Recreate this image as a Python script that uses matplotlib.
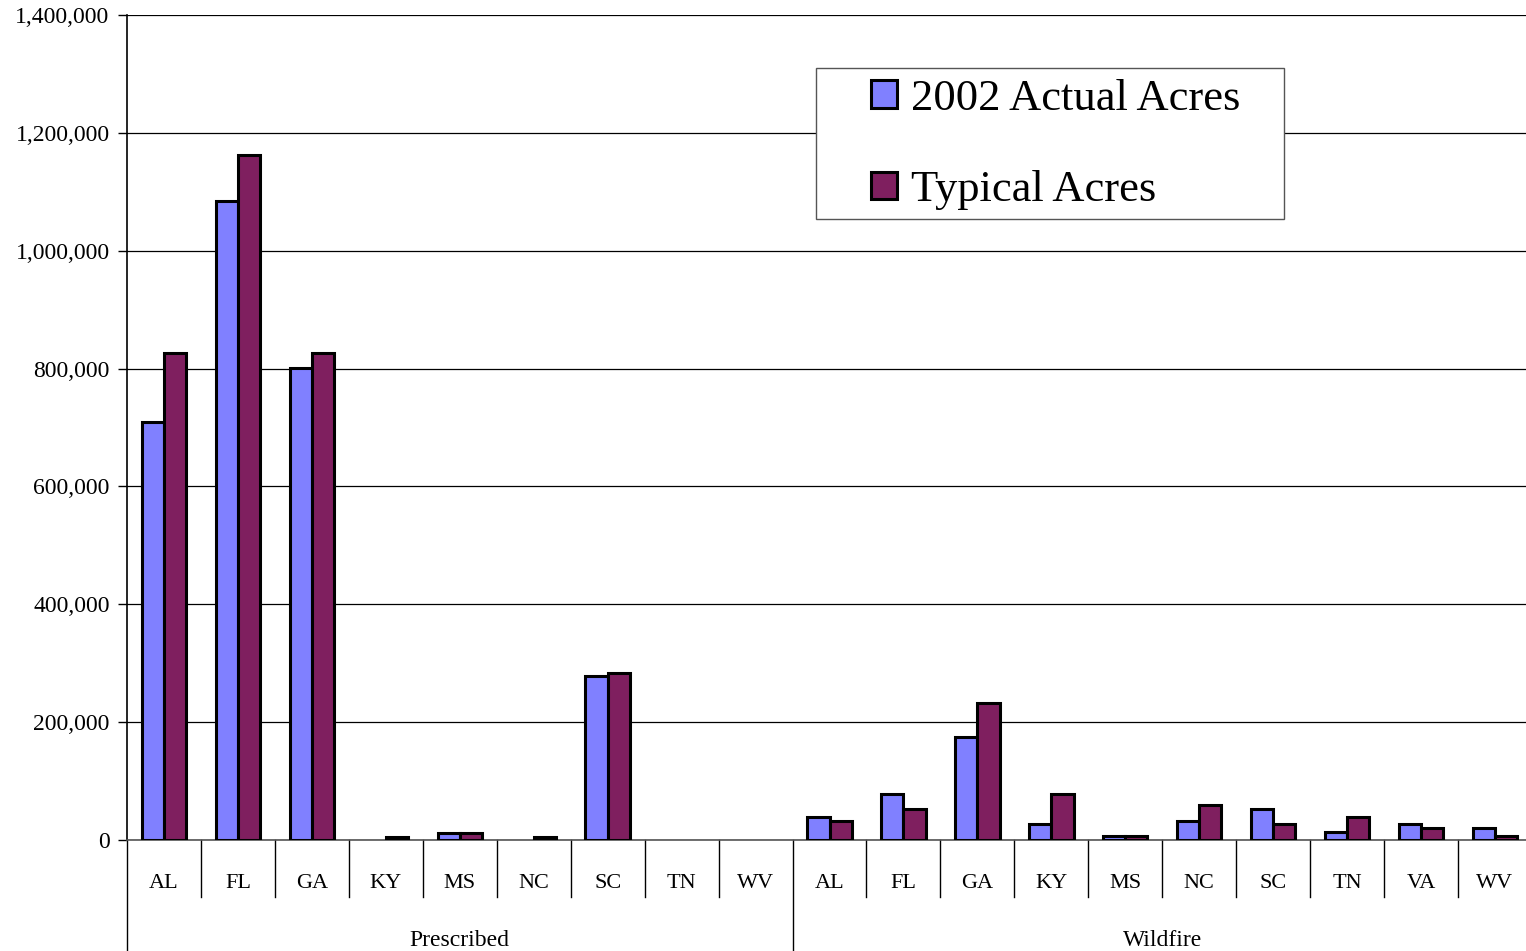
import numpy as np
import matplotlib
matplotlib.use("Agg")
import matplotlib.pyplot as plt
from matplotlib.patches import Rectangle

plt.rcParams['font.family'] = ['Liberation Serif', 'DejaVu Serif']

# data (acres)
groups = ["Prescribed", "Wildfire"]
presc_states = ["AL", "FL", "GA", "KY", "MS", "NC", "SC", "TN", "WV"]
wild_states = ["AL", "FL", "GA", "KY", "MS", "NC", "SC", "TN", "VA", "WV"]

presc_actual = [709000, 1084000, 801000, 0, 12000, 0, 278000, 0, 0]
presc_typical = [826000, 1162000, 826000, 5000, 12000, 5000, 283000, 0, 0]
wild_actual = [39000, 78000, 174000, 27000, 6000, 33000, 52000, 14000, 27000, 20000]
wild_typical = [33000, 52000, 233000, 78000, 6000, 59000, 27000, 39000, 20000, 6000]

labels = presc_states + wild_states
actual = presc_actual + wild_actual
typical = presc_typical + wild_typical
n = len(labels)
x = np.arange(n)

fig = plt.figure(figsize=(15.26, 9.51), dpi=100)
ax = fig.add_axes([127 / 1526, 111 / 951, 1405 / 1526, 825 / 951])

w = 0.3
b1 = ax.bar(x - w / 2, actual, w, color="#8080ff", edgecolor="black", linewidth=2.2,
            label="2002 Actual Acres", zorder=3)
b2 = ax.bar(x + w / 2, typical, w, color="#7f1f5f", edgecolor="black", linewidth=2.2,
            label="Typical Acres", zorder=3)
# empty values get no mark at all
for bars in (b1, b2):
    for p in bars.patches:
        if p.get_height() == 0:
            p.set_visible(False)

ax.set_xlim(-0.5, n - 0.5)
ax.set_ylim(0, 1400000)
ax.set_yticks(np.arange(0, 1400001, 200000))
ax.set_yticklabels([f"{v:,}" for v in range(0, 1400001, 200000)], fontsize=17)
ax.yaxis.grid(True, color="black", linewidth=0.9, zorder=0)
ax.tick_params(axis="y", direction="out", length=6.5, width=1, pad=6)
ax.set_xticks([])
for s in ["top", "right"]:
    ax.spines[s].set_visible(False)
ax.spines["bottom"].set_color("#555555")
ax.spines["bottom"].set_linewidth(1.2)
ax.spines["left"].set_linewidth(1.2)
ax.spines["left"].set_bounds(0, 1400000)

# category labels and dividers below the axis
trans = ax.get_xaxis_transform()
cat_bottom = -57 / 825
grp_bottom = -115 / 825
for i, lab in enumerate(labels):
    ax.text(i, -43 / 825, lab, transform=trans, ha="center", va="center", fontsize=16)
for i in range(n + 1):
    edge = i - 0.5
    bottom = grp_bottom if i in (0, len(presc_states), n) else cat_bottom
    ax.plot([edge, edge], [0, bottom], transform=trans, color="black",
            linewidth=1, clip_on=False)

starts = [0, len(presc_states)]
ends = [len(presc_states), n]
for g, a, b in zip(groups, starts, ends):
    ax.text((a + b - 1) / 2, -100 / 825, g, transform=trans, ha="center",
            va="center", fontsize=17)

# legend box drawn separately, entries placed inside it
box = Rectangle((816 / 1526, 1 - 219 / 951), 468 / 1526, 151 / 951,
                transform=fig.transFigure, facecolor="white", edgecolor="#555555",
                linewidth=1, zorder=5)
ax.add_patch(box)
box.set_clip_on(False)
leg = ax.legend(loc="upper left", bbox_to_anchor=(871 / 1526, 1 - 79 / 951),
                bbox_transform=fig.transFigure, fontsize=32, frameon=False,
                handlelength=0.58, handleheight=0.58, handletextpad=0.33,
                labelspacing=1.15, borderpad=0, borderaxespad=0)
leg.set_zorder(6)

fig.savefig("out.png", dpi=100)
